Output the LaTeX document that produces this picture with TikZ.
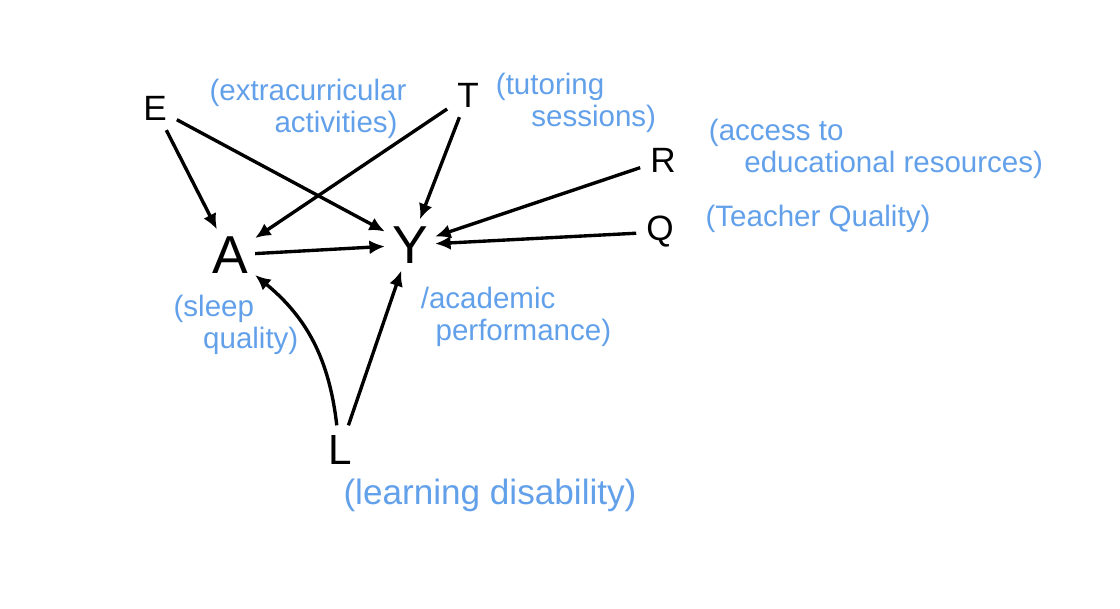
\documentclass[tikz,border=0pt]{standalone}
\usepackage{xcolor}
\usepackage{tikz}
\usetikzlibrary{arrows.meta}
\usepackage{fontspec}
\setmainfont{Liberation Sans}
\definecolor{noteblue}{RGB}{98,160,234}

\tikzset{
  var/.style={inner sep=7pt, font=\fontsize{25}{27}\selectfont},
  bigvar/.style={inner sep=5pt, font=\fontsize{38}{40}\selectfont},
  note/.style={noteblue, align=left, font=\fontsize{21}{23}\selectfont},
  edge/.style={-{Latex[length=11pt,width=10pt]}, line width=2.4pt}
}

\begin{document}
\begin{tikzpicture}
    \useasboundingbox (0,0) rectangle (28,15.225);
    % variables
    \node[var] (E) at (3.875,12.525) {E};
    \node[var] (T) at (11.7,12.85) {T};
    \node[var] (R) at (16.575,11.225) {R};
    \node[var] (Q) at (16.5,9.425) {Q};
    \node[bigvar] (A) at (5.75,8.85) {A};
    \node[bigvar] (Y) at (10.25,9.1) {Y};
    \node[var, font=\fontsize{30}{32}\selectfont] (L) at (8.5,3.975) {L};
    % what they stand for
    \node[note] (Enote) at (7.7,12.5) {(extracurricular\\\hspace{2.2em}activities)};
    \node[note] (Tnote) at (14.4,12.65) {(tutoring\\\hspace{1.2em}sessions)};
    \node[note] (Rnote) at (21.9,11.5) {(access to\\\hspace{1.2em}educational resources)};
    \node[note] (Qnote) at (20.45,9.75) {(Teacher Quality)};
    \node[note] (Anote) at (5.9,7.1) {(sleep\\\hspace{1em}quality)};
    \node[note] (Ynote) at (12.9,7.3) {/academic\\\hspace{0.5em}performance)};
    \node[note, font=\fontsize{25}{27}\selectfont] (Lnote) at (12.25,2.85) {(learning disability)};
    % arrows
    \draw[edge] (E) -- (A);
    \draw[edge] (E) -- (Y);
    \draw[edge] (T) -- (A);
    \draw[edge] (T) -- (Y);
    \draw[edge] (R) -- (Y);
    \draw[edge] (Q) -- (Y);
    \draw[edge] (A) -- (Y);
    \draw[edge] (L) to[bend right=22] (A);
    \draw[edge] (L) -- (Y);
\end{tikzpicture}
\end{document}
